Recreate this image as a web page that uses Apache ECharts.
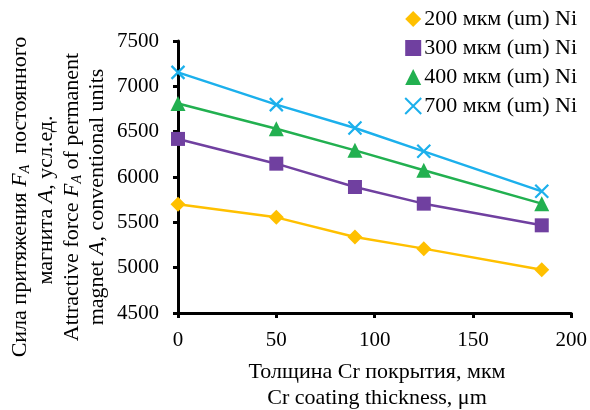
<!DOCTYPE html>
<html><head><meta charset="utf-8">
<script src="https://cdn.jsdelivr.net/npm/echarts@6/dist/echarts.min.js"></script>
<style>html,body{margin:0;padding:0;background:#fff}#c{width:590px;height:410px}</style>
</head><body><div id="c"></div>
<script>
const xValues = [0, 50, 90, 125, 185];
const seriesNames = ['200 мкм (um) Ni', '300 мкм (um) Ni', '400 мкм (um) Ni', '700 мкм (um) Ni'];
const ni200 = [5700, 5555, 5338, 5210, 4978];
const ni300 = [6420, 6147, 5890, 5706, 5467];
const ni400 = [6810, 6533, 6294, 6074, 5706];
const ni700 = [7154, 6798, 6540, 6283, 5842];
const colors = ['#FFC000', '#7040A0', '#22B050', '#1CB0EC'];
const symbols = ['diamond', 'rect', 'triangle', 'path://M0,0L10,10M10,0L0,10'];
const symbolSizes = [15, 14, 15, 13];
const allData = [ni200, ni300, ni400, ni700];
const FONT = '"Liberation Serif", "Times New Roman", serif';

const chart = echarts.init(document.getElementById('c'), null, {renderer: 'canvas'});
const series = allData.map((vals, i) => ({
  name: seriesNames[i],
  type: 'line',
  data: xValues.map((x, j) => [x, vals[j]]),
  symbol: symbols[i],
  symbolSize: symbolSizes[i],
  lineStyle: {color: colors[i], width: 2.5},
  itemStyle: i === 3 ? {color: 'rgba(0,0,0,0)', borderColor: colors[i], borderWidth: 2.2} : {color: colors[i], borderWidth: 0},
  z: 2 + i
}));

const TF = 22;
const sub = {fontFamily: FONT, fontSize: 14, fontStyle: 'italic', padding: [10, 0, 0, 0], verticalAlign: 'bottom'};
const base = {fontFamily: FONT, fontSize: TF};
const it = {fontFamily: FONT, fontSize: TF, fontStyle: 'italic'};
function vtext(x, y, text) {
  return {type: 'text', x: x, y: y, rotation: Math.PI / 2, style: {text: text, rich: {b: base, i: it, s: sub}, fill: '#000', align: 'center', verticalAlign: 'middle', font: TF + 'px ' + FONT}};
}

chart.setOption({
  animation: false,
  grid: {left: 178, right: 18, top: 41, bottom: 97},
  legend: {
    right: 8, top: 3, orient: 'vertical', itemGap: 7, itemWidth: 16, itemHeight: 16,
    textStyle: {fontFamily: FONT, fontSize: 22, color: '#000', padding: [0, 0, 0, -2]},
    data: seriesNames.map((n, i) => ({name: n, icon: symbols[i]}))
  },
  xAxis: {
    type: 'value', min: 0, max: 200, interval: 50,
    axisLine: {lineStyle: {color: '#000', width: 3}},
    axisTick: {show: true, length: 5, lineStyle: {color: '#000', width: 3}},
    axisLabel: {fontFamily: FONT, fontSize: 21, color: '#000', margin: 17},
    splitLine: {show: false}
  },
  yAxis: {
    type: 'value', min: 4500, max: 7500, interval: 500,
    axisLine: {show: true, lineStyle: {color: '#000', width: 3}},
    axisTick: {show: true, length: 5, lineStyle: {color: '#000', width: 3}},
    axisLabel: {fontFamily: FONT, fontSize: 21, color: '#000', margin: 19, formatter: v => String(v)},
    splitLine: {show: false}
  },
  graphic: [
    {type: 'text', x: 377, y: 372, style: {text: 'Толщина Cr покрытия, мкм', fill: '#000', align: 'center', verticalAlign: 'middle', font: TF + 'px ' + FONT}},
    {type: 'text', x: 377, y: 398, style: {text: 'Cr coating thickness, μm', fill: '#000', align: 'center', verticalAlign: 'middle', font: TF + 'px ' + FONT}},
    vtext(20, 197, '{b|Сила притяжения }{i|F}{s|A}{b|  постоянного}'),
    vtext(46, 200, '{b|магнита }{i|A}{b|, усл.ед.}'),
    vtext(72, 197, '{b|Attractive force }{i|F}{s|A}{b| of permanent}'),
    vtext(97, 197, '{b|magnet }{i|A}{b|, conventional units}')
  ],
  series: series
});
</script></body></html>
